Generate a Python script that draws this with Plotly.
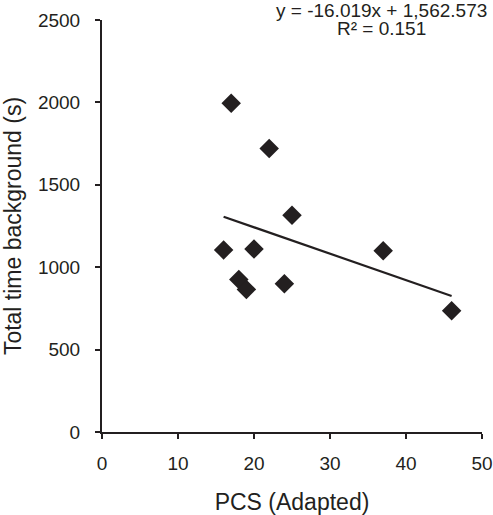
import plotly.graph_objects as go

# PCS (Adapted) vs total time background
pcs = [16, 17, 18, 19, 20, 22, 24, 25, 37, 46]
time_bg = [1105, 1995, 925, 865, 1110, 1720, 900, 1315, 1100, 735]

# linear trendline as printed on the chart
slope = -16.019
intercept = 1562.573
r2 = 0.151

x_ticks = [0, 10, 20, 30, 40, 50]
y_ticks = [0, 500, 1000, 1500, 2000, 2500]

ink = '#231f20'
font = 'Liberation Sans, Arial, sans-serif'

fit_x = [min(pcs), max(pcs)]
fit_y = [slope * v + intercept for v in fit_x]

fig = go.Figure()
fig.add_trace(go.Scatter(x=fit_x, y=fit_y, mode='lines',
                         line=dict(color=ink, width=2.2), hoverinfo='skip'))
fig.add_trace(go.Scatter(x=pcs, y=time_bg, mode='markers',
                         marker=dict(symbol='diamond', size=15, color=ink)))

eq1 = 'y = %.3fx + %s' % (slope, '{:,.3f}'.format(intercept))
eq2 = 'R² = %.3f' % r2
fig.add_annotation(x=36.8, xref='x', y=1.024, yref='paper', text=eq1,
                   showarrow=False, xanchor='center', yanchor='middle',
                   font=dict(size=19, color=ink, family=font))
fig.add_annotation(x=36.8, xref='x', y=0.980, yref='paper', text=eq2,
                   showarrow=False, xanchor='center', yanchor='middle',
                   font=dict(size=19, color=ink, family=font))

fig.update_layout(
    width=493, height=515,
    margin=dict(l=102, r=11, t=20, b=83, autoexpand=False),
    paper_bgcolor='white', plot_bgcolor='white',
    showlegend=False,
    font=dict(family=font, size=19, color=ink),
)
fig.update_xaxes(range=[0, 50], tickvals=x_ticks, showgrid=False, zeroline=False,
                 showline=True, linecolor=ink, linewidth=2,
                 ticks='outside', ticklen=5, tickwidth=2, tickcolor=ink,
                 ticklabelstandoff=8, automargin=False,
                 title=dict(text='PCS (Adapted)', standoff=27))
fig.update_yaxes(range=[0, 2500], tickvals=y_ticks, showgrid=False, zeroline=False,
                 showline=True, linecolor=ink, linewidth=2,
                 ticks='outside', ticklen=5, tickwidth=2, tickcolor=ink,
                 ticklabelstandoff=11, automargin=False,
                 title=dict(text='Total time background (s)', standoff=13))

# page body has an 8px default margin; drop it so the figure sits at 0,0
fig.write_html('out.html', config={'displayModeBar': False},
               post_script="document.body.style.margin='0';")
